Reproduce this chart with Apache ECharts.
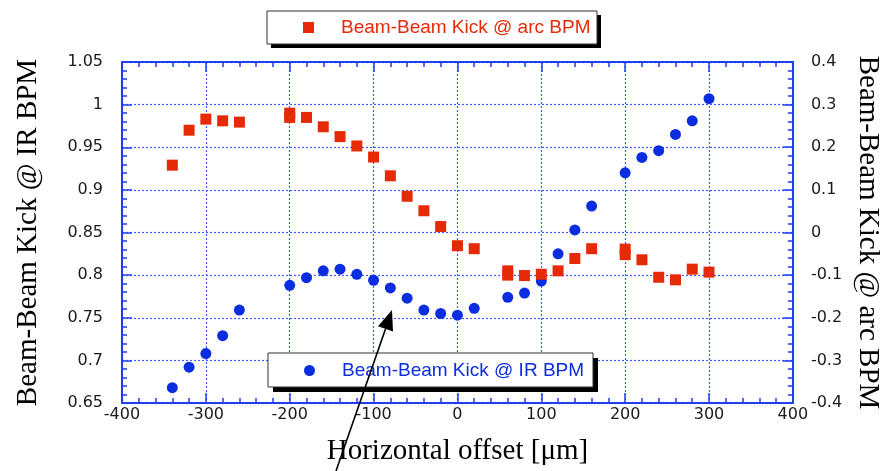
<!DOCTYPE html>
<html>
<head>
<meta charset="utf-8">
<script src="https://cdn.jsdelivr.net/npm/echarts@6/dist/echarts.min.js"></script>
<style>html,body{margin:0;padding:0;background:#fff;}#c{width:890px;height:471px;}</style>
</head>
<body>
<div id="c"></div>
<script>
// Beam-Beam Kick @ arc BPM (right axis), red squares
const arcX = [-340,-320,-300,-280,-260,-200,-200,-180,-160,-140,-120,-100,-80,-60,-40,-20,0,20,60,60,80,100,120,140,160,200,200,220,240,260,280,300];
const arcY = [0.158,0.240,0.266,0.262,0.259,0.280,0.270,0.270,0.248,0.225,0.203,0.177,0.133,0.085,0.051,0.014,-0.031,-0.038,-0.090,-0.100,-0.101,-0.098,-0.090,-0.061,-0.038,-0.039,-0.052,-0.064,-0.105,-0.111,-0.086,-0.093];
// Beam-Beam Kick @ IR BPM (left axis), blue circles
const irX = [-340,-320,-300,-280,-260,-200,-180,-160,-140,-120,-100,-80,-60,-40,-20,0,20,60,80,100,120,140,160,200,220,240,260,280,300];
const irY = [0.668,0.692,0.708,0.729,0.759,0.788,0.797,0.805,0.807,0.801,0.794,0.785,0.773,0.759,0.755,0.753,0.761,0.774,0.779,0.793,0.825,0.853,0.881,0.920,0.938,0.946,0.965,0.981,1.007];

const arcName = 'Beam-Beam Kick @ arc BPM';
const irName = 'Beam-Beam Kick @ IR BPM';
const xTitle = 'Horizontal offset [\u03bcm]';

const AX = '#1f3ff0';
const GRIDC = '#3a5cff';
const RED = '#e62a05';
const BLUE = '#0a2de0';
const labelFont = {fontFamily: 'DejaVu Sans', fontSize: 16, color: '#1a1a1a'};
const titleFont = {fontFamily: 'Liberation Serif', fontSize: 29, color: '#000'};

const chart = echarts.init(document.getElementById('c'), null, {renderer: 'canvas'});

const tickCommon = {
  axisLine: {show: true, onZero: false, lineStyle: {color: AX, width: 2}},
  axisTick: {show: true, inside: true, length: 10, lineStyle: {color: AX, width: 1.5}},
  minorTick: {show: true, splitNumber: 5, length: 5, lineStyle: {color: AX, width: 1.5}},
};

function legendBox(x, y, w, h, off) {
  return [
    {type: 'rect', z: 3.8, shape: {x: x + off, y: y + off, width: w, height: h}, style: {fill: '#000'}},
    {type: 'rect', z: 3.9, shape: {x: x, y: y, width: w, height: h}, style: {fill: '#fff', stroke: '#333', lineWidth: 1}}
  ];
}

const option = {
  animation: false,
  backgroundColor: '#fff',
  grid: {left: 122, right: 83, top: 62, bottom: 63, containLabel: false},
  xAxis: [
    Object.assign({
      type: 'value', position: 'bottom', min: -400, max: 400, interval: 100,
      name: xTitle, nameLocation: 'middle', nameGap: 34, nameTextStyle: titleFont,
      axisLabel: Object.assign({margin: 4}, labelFont),
      splitLine: {show: true, lineStyle: {color: GRIDC, type: [2, 2], width: 1.2}}
    }, tickCommon),
    Object.assign({
      type: 'value', position: 'top', min: -400, max: 400, interval: 100,
      axisLabel: {show: false}, splitLine: {show: false}
    }, tickCommon)
  ],
  yAxis: [
    Object.assign({
      type: 'value', position: 'left', min: 0.65, max: 1.05, interval: 0.05,
      name: irName, nameLocation: 'middle', nameGap: 79, nameRotate: 90, nameTextStyle: titleFont,
      axisLabel: Object.assign({margin: 19, formatter: v => String(+v.toFixed(2))}, labelFont),
      splitLine: {show: true, lineStyle: {color: GRIDC, type: [2, 2], width: 1.2}}
    }, tickCommon),
    Object.assign({
      type: 'value', position: 'right', min: -0.4, max: 0.4, interval: 0.1,
      name: arcName, nameLocation: 'middle', nameGap: 56, nameRotate: -90, nameTextStyle: titleFont,
      axisLabel: Object.assign({margin: 18, formatter: v => String(+v.toFixed(1))}, labelFont),
      splitLine: {show: false}
    }, tickCommon)
  ],
  legend: [
    {
      data: [{name: arcName, icon: 'rect'}],
      left: 267, top: 11, orient: 'horizontal', z: 5,
      padding: [7, 8, 7, 36], itemWidth: 11, itemHeight: 11,
      textStyle: {color: RED, fontFamily: 'Liberation Sans', fontSize: 19, padding: [0, 0, 0, 22]}
    },
    {
      data: [{name: irName, icon: 'circle'}],
      left: 268, top: 353, orient: 'horizontal', z: 5,
      padding: [8, 10, 8, 36], itemWidth: 11, itemHeight: 11,
      textStyle: {color: BLUE, fontFamily: 'Liberation Sans', fontSize: 19, padding: [0, 0, 0, 22]}
    }
  ],
  series: [
    {
      name: irName, type: 'scatter', xAxisIndex: 0, yAxisIndex: 0,
      symbol: 'circle', symbolSize: 11, z: 3,
      itemStyle: {color: BLUE, opacity: 1},
      data: irX.map((x, i) => [x, irY[i]])
    },
    {
      name: arcName, type: 'scatter', xAxisIndex: 0, yAxisIndex: 1,
      symbol: 'rect', symbolSize: 11, z: 3.5,
      itemStyle: {color: RED, opacity: 1},
      data: arcX.map((x, i) => [x, arcY[i]])
    }
  ],
  graphic: [].concat(
    legendBox(267, 11, 330, 33, 4),
    legendBox(268, 353, 325, 34, 5),
    [
      {type: 'line', z: 100, shape: {x1: 336, y1: 471, x2: 385.5, y2: 329}, style: {stroke: '#000', lineWidth: 1.6}},
      {type: 'polygon', z: 100, shape: {points: [[392, 310], [393, 331.5], [378, 326.3]]}, style: {fill: '#000'}}
    ]
  )
};
chart.setOption(option);
</script>
</body>
</html>
